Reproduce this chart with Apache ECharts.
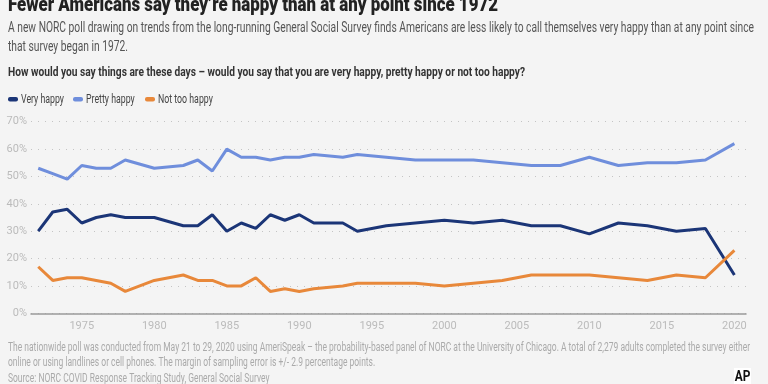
<!DOCTYPE html>
<html><head><meta charset="utf-8">
<script src="https://cdn.jsdelivr.net/npm/echarts@6/dist/echarts.min.js"></script>
<style>html,body{margin:0;padding:0;background:#f4f4f4}#c{width:768px;height:384px}</style>
</head><body><div id="c"></div>
<script>
const years = [1972,1973,1974,1975,1976,1977,1978,1980,1982,1983,1984,1985,1986,1987,1988,1989,1990,1991,1993,1994,1996,1998,2000,2002,2004,2006,2008,2010,2012,2014,2016,2018,2020];
const veryHappy   = [30,37,38,33,35,36,35,35,32,32,36,30,33,31,36,34,36,33,33,30,32,33,34,33,34,32,32,29,33,32,30,31,14];
const prettyHappy = [53,51,49,54,53,53,56,53,54,56,52,60,57,57,56,57,57,58,57,58,57,56,56,56,55,54,54,57,54,55,55,56,62];
const notTooHappy = [17,12,13,13,12,11,8,12,14,12,12,10,10,13,8,9,8,9,10,11,11,11,10,11,12,14,14,14,13,12,14,13,23];
const xTicks = [1975,1980,1985,1990,1995,2000,2005,2010,2015,2020];
const yTicks = [0,10,20,30,40,50,60,70];
const seriesNames = ['Very happy','Pretty happy','Not too happy'];
const colors = ['#1b3577','#6f8edc','#e8883a'];

const FONT = 'Roboto, sans-serif';
const pair = arr => years.map((y,i)=>[y,arr[i]]);

// condensed look: horizontally scale text to the width it takes in the reference
const mctx = document.createElement('canvas').getContext('2d');
function fit(text, font, target){ mctx.font = font; return target / mctx.measureText(text).width; }

function txt(x, y, text, font, fill, sx){
  return {type:'text', x:x, y:y, scaleX:sx, originX:0, originY:0,
    style:{x:0, y:0, text:text, font:font, fill:fill, textVerticalAlign:'middle', textAlign:'left'}};
}

const T_TITLE = 'Fewer Americans say they\u2019re happy than at any point since 1972';
const T_SUB1 = 'A new NORC poll drawing on trends from the long-running General Social Survey finds Americans are less likely to call themselves very happy than at any point since';
const T_SUB2 = 'that survey began in 1972.';
const T_Q = 'How would you say things are these days \u2013 would you say that you are very happy, pretty happy or not too happy?';
const T_F1 = 'The nationwide poll was conducted from May 21 to 29, 2020 using AmeriSpeak \u2013 the probability-based panel of NORC at the University of Chicago. A total of 2,279 adults completed the survey either';
const T_F2 = 'online or using landlines or cell phones. The margin of sampling error is +/- 2.9 percentage points.';
const T_SRC = 'Source: NORC COVID Response Tracking Study, General Social Survey';

const fTitle = '900 21px '+FONT, fSub = '14px '+FONT, fQ = 'bold 12.5px '+FONT, fLeg = '12px '+FONT, fFoot = '12px '+FONT;
const sTitle = fit(T_TITLE, fTitle, 490);
const sSub = fit(T_SUB1, fSub, 746);
const sQ = fit(T_Q, fQ, 517);
const sLeg = fit('Very happy', fLeg, 43);
const sFoot = fit(T_F1, fFoot, 742);

const legendX = [8, 73, 145];
const legendG = [];
seriesNames.forEach((n,i)=>{
  legendG.push({type:'rect', shape:{x:legendX[i], y:97, width:10, height:4.5, r:2}, style:{fill:colors[i]}});
  legendG.push(txt(legendX[i]+13, 99.5, n, fLeg, '#444', sLeg));
});

const chart = echarts.init(document.getElementById('c'), null, {renderer:'canvas'});
chart.setOption({
  backgroundColor:'#f4f4f4',
  animation:false,
  textStyle:{fontFamily:FONT},
  graphic:[
    txt(8, 6, T_TITLE, fTitle, '#222', sTitle),
    txt(8, 28.5, T_SUB1, fSub, '#555', sSub),
    txt(8, 47.5, T_SUB2, fSub, '#555', sSub),
    txt(8, 72.5, T_Q, fQ, '#333', sQ),
    txt(8, 347.5, T_F1, fFoot, '#aaa', sFoot),
    txt(8, 362.5, T_F2, fFoot, '#aaa', sFoot),
    txt(8, 379, T_SRC, fFoot, '#aaa', sFoot),
    {type:'rect', shape:{x:734, y:368, width:17, height:16}, style:{fill:'#ffffff'}},
    {type:'text', x:742.5, y:377, style:{x:0, y:0, text:'AP', font:'bold 14px '+FONT, fill:'#111', textAlign:'center', textVerticalAlign:'middle'}, scaleX:0.85}
  ].concat(legendG),
  grid:{left:31, right:22, top:121.7, bottom:70.7, containLabel:false},
  xAxis:{
    type:'value', min:1971.5, max:2020.8,
    axisLine:{show:true, lineStyle:{color:'#999', width:1.5}},
    axisTick:{show:false},
    splitLine:{show:false},
    axisLabel:{customValues:xTicks, color:'#bbb', fontSize:11, margin:7, fontFamily:FONT, formatter:v=>String(v)}
  },
  yAxis:{
    type:'value', min:0, max:70, interval:10,
    axisLine:{show:false}, axisTick:{show:false},
    splitLine:{show:true, lineStyle:{color:'#c4c4c4', type:[1,6], width:1}},
    axisLabel:{color:'#bbb', fontSize:11, margin:4, fontFamily:FONT, formatter:v=>v+'%'}
  },
  series:[
    {name:seriesNames[0], type:'line', data:pair(veryHappy), symbol:'none', lineStyle:{width:3, color:colors[0]}, itemStyle:{color:colors[0]}},
    {name:seriesNames[1], type:'line', data:pair(prettyHappy), symbol:'none', lineStyle:{width:3, color:colors[1]}, itemStyle:{color:colors[1]}},
    {name:seriesNames[2], type:'line', data:pair(notTooHappy), symbol:'none', lineStyle:{width:3, color:colors[2]}, itemStyle:{color:colors[2]}}
  ]
});
</script></body></html>
